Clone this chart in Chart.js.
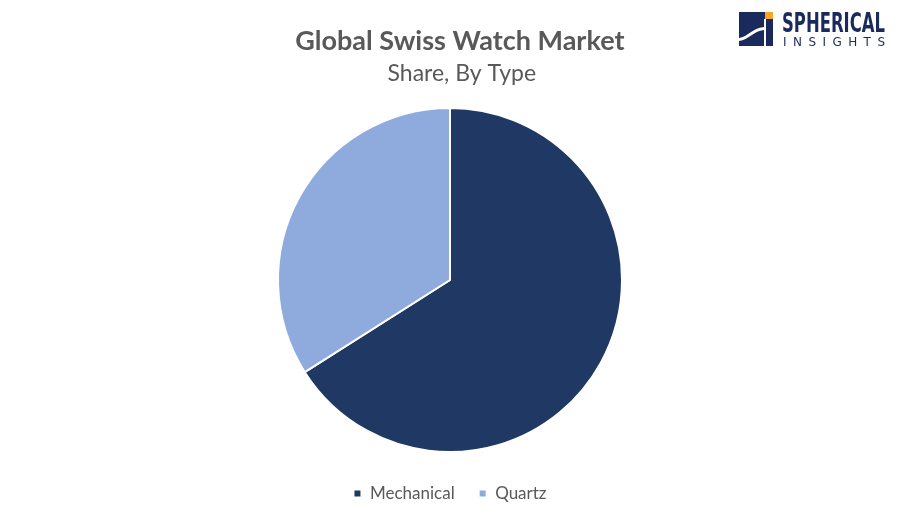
<!DOCTYPE html>
<html>
<head>
<meta charset="utf-8">
<script src="https://cdn.jsdelivr.net/npm/chart.js@4.4.0/dist/chart.umd.min.js"></script>
<style>
  html, body { margin: 0; padding: 0; background: #fff; }
  #wrap { position: relative; width: 900px; height: 525px; }
  #logo { position: absolute; left: 0; top: 0; }
</style>
</head>
<body>
<div id="wrap">
  <canvas id="chartType" width="900" height="525"></canvas>
  <svg id="logo" width="900" height="60">
    <rect x="739" y="12" width="34" height="34" fill="#1b2a5c"/>
    <rect x="765" y="12" width="8" height="7" fill="#f5a623"/>
    <rect x="764" y="19" width="2" height="27" fill="#fff"/>
    <path d="M739 38 C748 37 752 28 764 27 L764 30 C753 31 749 40 739 41 Z" fill="#fff"/>
    <text x="782" y="32" textLength="103" lengthAdjust="spacingAndGlyphs"
          font-family="DejaVu Sans" font-weight="bold" font-size="27" fill="#1b2a5c">SPHERICAL</text>
    <text x="783" y="46" textLength="102" lengthAdjust="spacing"
          font-family="DejaVu Sans" font-size="12" fill="#1b2a5c">INSIGHTS</text>
  </svg>
</div>
<script>
// dados
const tipos = ["Mechanical", "Quartz"];
const participacao = [66, 34];
const cores = ["#203864", "#8faadc"];

const pie = document.getElementById("chartType");

if (pie) {
    new Chart(pie, {
        type: "pie",
        data: {
            labels: tipos,
            datasets: [{
                data: participacao,
                backgroundColor: cores,
                borderColor: "#ffffff",
                borderWidth: 2,
                radius: 172
            }]
        },
        options: {
            responsive: false,
            animation: false,
            layout: { padding: { bottom: 13 } },
            plugins: {
                title: {
                    display: true,
                    text: "   Global Swiss Watch Market",   // espaços p/ centralizar como no original
                    color: "#595959",
                    font: { family: "Lato", size: 27, weight: "bold" },
                    padding: { top: 25, bottom: 2 }
                },
                subtitle: {
                    display: true,
                    text: "    Share, By Type",
                    color: "#595959",
                    font: { family: "Lato", size: 23 },
                    padding: { top: 0, bottom: 12 }
                },
                legend: {
                    position: "bottom",
                    labels: {
                        color: "#595959",
                        font: { family: "Lato", size: 17 },
                        usePointStyle: true,
                        pointStyle: "rect",
                        boxWidth: 8,
                        boxHeight: 8,
                        padding: 24
                    }
                },
                tooltip: { enabled: false }
            }
        }
    });
}
</script>
</body>
</html>
